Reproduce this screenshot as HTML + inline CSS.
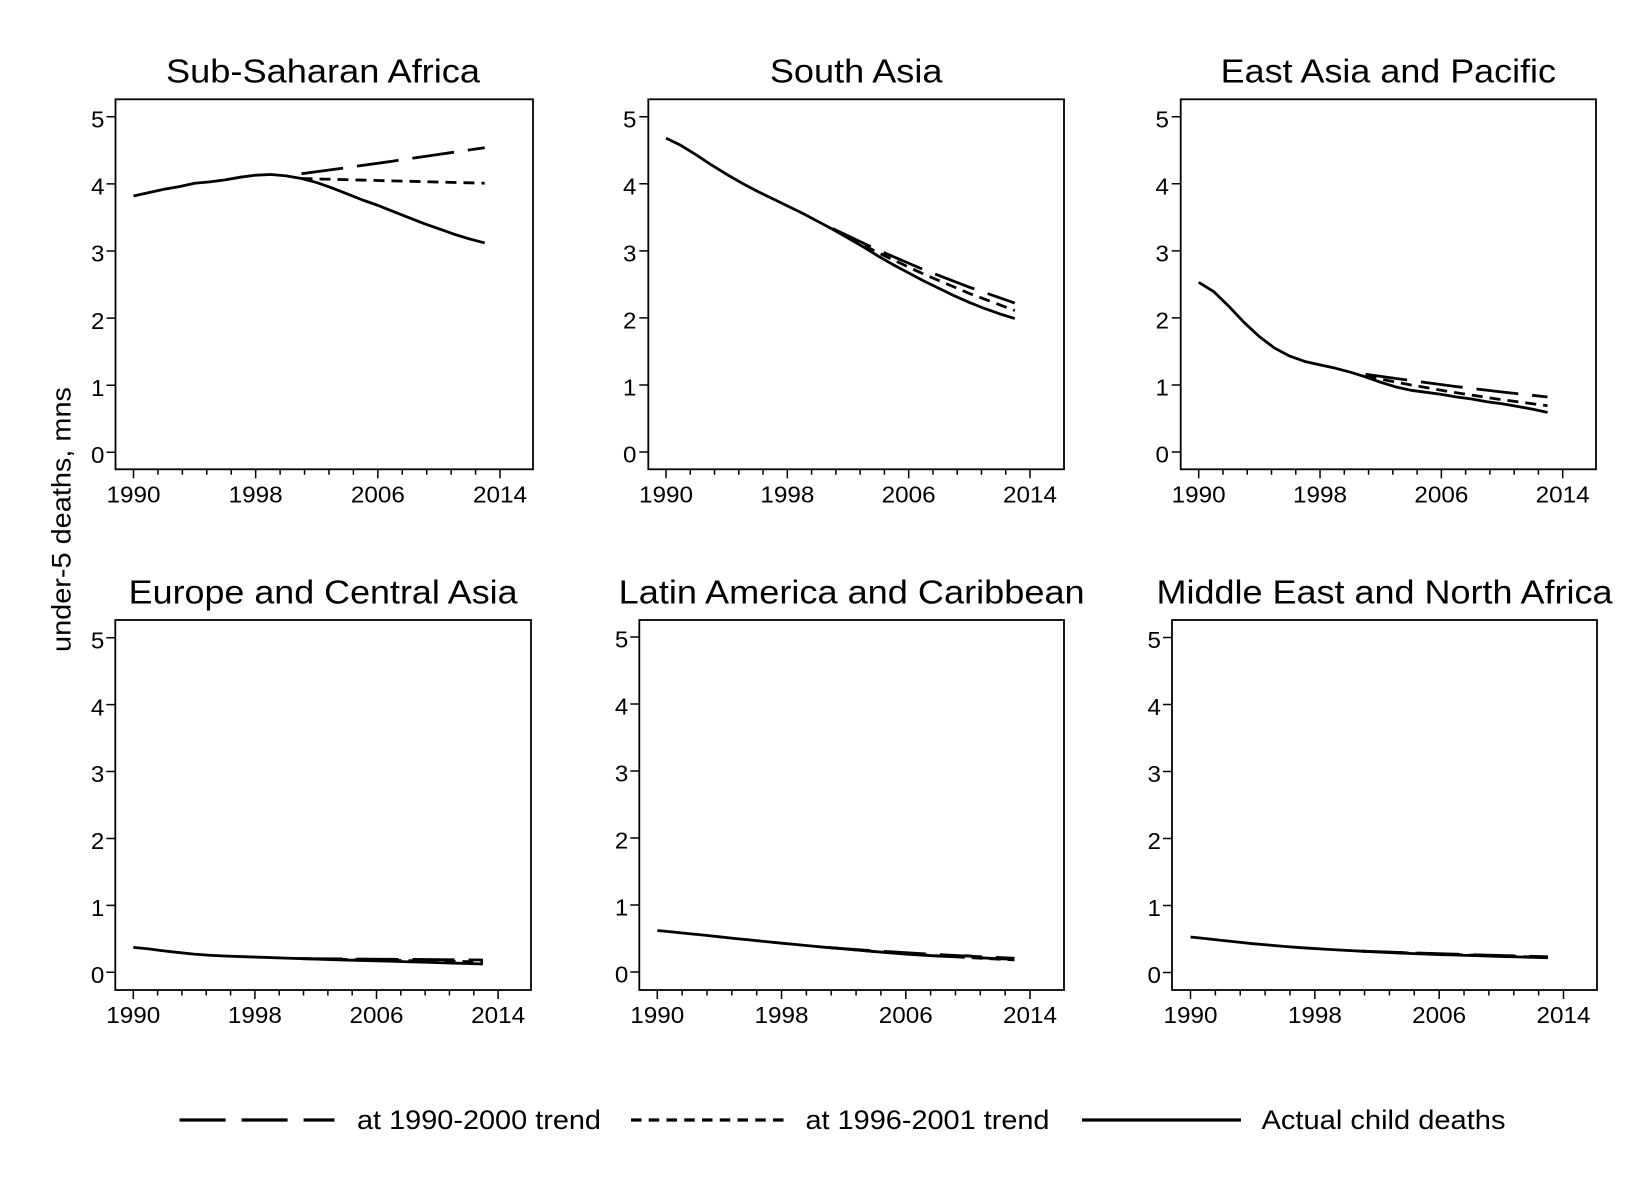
<!DOCTYPE html>
<html>
<head>
<meta charset="utf-8">
<style>
html,body{margin:0;padding:0;background:#fff;}
svg{display:block;}
text{font-family:"Liberation Sans",Arial,sans-serif;fill:#000;}
.t{font-size:33px;text-anchor:middle;}
.yl{font-size:23px;text-anchor:end;}
.xl{font-size:23px;text-anchor:middle;}
.lg{font-size:27px;}
.fr{fill:none;stroke:#000;stroke-width:1.8;}
.tk{fill:none;stroke:#000;stroke-width:1.5;}
.s{fill:none;stroke:#000;stroke-width:2.8;stroke-linejoin:round;stroke-linecap:butt;}
.ld{fill:none;stroke:#000;stroke-width:2.8;stroke-dasharray:42 14;stroke-linejoin:round;}
.sd{fill:none;stroke:#000;stroke-width:2.8;stroke-dasharray:11 7;stroke-linejoin:round;}
</style>
</head>
<body>
<svg width="1650" height="1200" viewBox="0 0 1650 1200" xmlns="http://www.w3.org/2000/svg">
<rect x="0" y="0" width="1650" height="1200" fill="#fff"/>

<!-- Y axis title -->
<text class="lg" transform="translate(70.5,519.5) rotate(-90)" text-anchor="middle" font-size="28" textLength="265" lengthAdjust="spacingAndGlyphs">under-5 deaths, mns</text>

<!-- ================= Panel 1: Sub-Saharan Africa ================= -->
<text class="t" x="323" y="82.5" textLength="314" lengthAdjust="spacingAndGlyphs">Sub-Saharan Africa</text>
<rect class="fr" x="115.5" y="99.3" width="417.5" height="370"/>
<path class="tk" d="M133.5 469.3V478.3M157.93 469.3V474.8M182.37 469.3V474.8M206.8 469.3V474.8M231.24 469.3V474.8M255.67 469.3V478.3M280.1 469.3V474.8M304.54 469.3V474.8M328.97 469.3V474.8M353.41 469.3V474.8M377.84 469.3V478.3M402.27 469.3V474.8M426.71 469.3V474.8M451.14 469.3V474.8M475.58 469.3V474.8M500 469.3V478.3"/>
<path class="tk" d="M106.5 452.3H115.5M106.5 385.2H115.5M106.5 318.1H115.5M106.5 251H115.5M106.5 183.9H115.5M106.5 116.8H115.5"/>
<text class="yl" transform="translate(104.5,463) scale(1.05,1)">0</text>
<text class="yl" transform="translate(104.5,395.9) scale(1.05,1)">1</text>
<text class="yl" transform="translate(104.5,328.8) scale(1.05,1)">2</text>
<text class="yl" transform="translate(104.5,261.7) scale(1.05,1)">3</text>
<text class="yl" transform="translate(104.5,194.6) scale(1.05,1)">4</text>
<text class="yl" transform="translate(104.5,127.5) scale(1.05,1)">5</text>
<text class="xl" x="133.5" y="502.5" textLength="54" lengthAdjust="spacingAndGlyphs">1990</text>
<text class="xl" x="255.67" y="502.5" textLength="54" lengthAdjust="spacingAndGlyphs">1998</text>
<text class="xl" x="377.84" y="502.5" textLength="54" lengthAdjust="spacingAndGlyphs">2006</text>
<text class="xl" x="500" y="502.5" textLength="54" lengthAdjust="spacingAndGlyphs">2014</text>
<g transform="translate(133.5,452.3) scale(15.271,-67.1)">
<polyline class="s" vector-effect="non-scaling-stroke" points="0,3.82 1,3.87 2,3.92 3,3.96 4,4.01 5,4.03 6,4.06 7,4.10 8,4.13 9,4.14 10,4.12 11,4.08 12,4.02 13,3.94 14,3.85 15,3.76 16,3.68 17,3.59 18,3.50 19,3.41 20,3.33 21,3.25 22,3.18 23,3.12"/>
</g>
<polyline class="ld" points="301.5,173.8 347.3,167.5 393.1,161.1 438.9,154.4 484.7,147.7"/>
<polyline class="sd" points="301.5,178.5 393.1,180.9 484.7,183.2"/>

<!-- ================= Panel 2: South Asia ================= -->
<text class="t" x="856.15" y="82.5" textLength="172.6" lengthAdjust="spacingAndGlyphs">South Asia</text>
<rect class="fr" x="648.3" y="99.3" width="415.7" height="370"/>
<path class="tk" d="M666 469.3V478.3M690.27 469.3V474.8M714.53 469.3V474.8M738.8 469.3V474.8M763.07 469.3V474.8M787.33 469.3V478.3M811.6 469.3V474.8M835.87 469.3V474.8M860.13 469.3V474.8M884.4 469.3V474.8M908.67 469.3V478.3M932.93 469.3V474.8M957.2 469.3V474.8M981.47 469.3V474.8M1005.73 469.3V474.8M1030 469.3V478.3"/>
<path class="tk" d="M639.3 452H648.3M639.3 384.94H648.3M639.3 317.88H648.3M639.3 250.82H648.3M639.3 183.76H648.3M639.3 116.7H648.3"/>
<text class="yl" transform="translate(636.5,462.7) scale(1.05,1)">0</text>
<text class="yl" transform="translate(636.5,395.64) scale(1.05,1)">1</text>
<text class="yl" transform="translate(636.5,328.58) scale(1.05,1)">2</text>
<text class="yl" transform="translate(636.5,261.52) scale(1.05,1)">3</text>
<text class="yl" transform="translate(636.5,194.46) scale(1.05,1)">4</text>
<text class="yl" transform="translate(636.5,127.4) scale(1.05,1)">5</text>
<text class="xl" x="666" y="502.5" textLength="54" lengthAdjust="spacingAndGlyphs">1990</text>
<text class="xl" x="787.33" y="502.5" textLength="54" lengthAdjust="spacingAndGlyphs">1998</text>
<text class="xl" x="908.67" y="502.5" textLength="54" lengthAdjust="spacingAndGlyphs">2006</text>
<text class="xl" x="1030" y="502.5" textLength="54" lengthAdjust="spacingAndGlyphs">2014</text>
<g transform="translate(666,452) scale(15.167,-67.06)">
<polyline class="s" vector-effect="non-scaling-stroke" points="0,4.68 1,4.57 2,4.43 3,4.28 4,4.14 5,4.01 6,3.89 7,3.78 8,3.67 9,3.56 10,3.44 11,3.32 12,3.19 13,3.06 14,2.92 15,2.79 16,2.67 17,2.55 18,2.44 19,2.33 20,2.23 21,2.14 22,2.06 23,1.99"/>
</g>
<polyline class="ld" points="832.8,228.7 878.3,250.2 923.8,269.7 969.3,287.2 1014.8,303.1"/>
<polyline class="sd" points="832.8,228.7 878.3,252.8 923.8,274.2 969.3,293.4 1014.8,310.5"/>

<!-- ================= Panel 3: East Asia and Pacific ================= -->
<text class="t" x="1388.35" y="82.5" textLength="335.3" lengthAdjust="spacingAndGlyphs">East Asia and Pacific</text>
<rect class="fr" x="1180.7" y="99.3" width="415.3" height="370"/>
<path class="tk" d="M1198.7 469.3V478.3M1222.97 469.3V474.8M1247.23 469.3V474.8M1271.5 469.3V474.8M1295.77 469.3V474.8M1320.03 469.3V478.3M1344.3 469.3V474.8M1368.57 469.3V474.8M1392.83 469.3V474.8M1417.1 469.3V474.8M1441.37 469.3V478.3M1465.63 469.3V474.8M1489.9 469.3V474.8M1514.17 469.3V474.8M1538.43 469.3V474.8M1562.7 469.3V478.3"/>
<path class="tk" d="M1171.7 452H1180.7M1171.7 384.94H1180.7M1171.7 317.88H1180.7M1171.7 250.82H1180.7M1171.7 183.76H1180.7M1171.7 116.7H1180.7"/>
<text class="yl" transform="translate(1169,462.7) scale(1.05,1)">0</text>
<text class="yl" transform="translate(1169,395.64) scale(1.05,1)">1</text>
<text class="yl" transform="translate(1169,328.58) scale(1.05,1)">2</text>
<text class="yl" transform="translate(1169,261.52) scale(1.05,1)">3</text>
<text class="yl" transform="translate(1169,194.46) scale(1.05,1)">4</text>
<text class="yl" transform="translate(1169,127.4) scale(1.05,1)">5</text>
<text class="xl" x="1198.7" y="502.5" textLength="54" lengthAdjust="spacingAndGlyphs">1990</text>
<text class="xl" x="1320.03" y="502.5" textLength="54" lengthAdjust="spacingAndGlyphs">1998</text>
<text class="xl" x="1441.37" y="502.5" textLength="54" lengthAdjust="spacingAndGlyphs">2006</text>
<text class="xl" x="1562.7" y="502.5" textLength="54" lengthAdjust="spacingAndGlyphs">2014</text>
<g transform="translate(1198.7,452) scale(15.167,-67.06)">
<polyline class="s" vector-effect="non-scaling-stroke" points="0,2.53 1,2.39 2,2.17 3,1.93 4,1.72 5,1.55 6,1.43 7,1.35 8,1.30 9,1.25 10,1.19 11,1.12 12,1.04 13,0.97 14,0.92 15,0.89 16,0.86 17,0.82 18,0.79 19,0.75 20,0.72 21,0.68 22,0.64 23,0.59"/>
</g>
<polyline class="ld" points="1365.5,374.2 1411,380.6 1456.5,386.6 1502,392 1547.5,397"/>
<polyline class="sd" points="1365.5,376.2 1411,385 1456.5,392.8 1502,399.7 1547.5,405.7"/>

<!-- ================= Panel 4: Europe and Central Asia ================= -->
<text class="t" x="323.15" y="603.5" textLength="388.9" lengthAdjust="spacingAndGlyphs">Europe and Central Asia</text>
<rect class="fr" x="115.3" y="620" width="415.7" height="370"/>
<path class="tk" d="M133.3 990V999M157.62 990V995.5M181.94 990V995.5M206.26 990V995.5M230.58 990V995.5M254.9 990V999M279.22 990V995.5M303.54 990V995.5M327.86 990V995.5M352.18 990V995.5M376.5 990V999M400.82 990V995.5M425.14 990V995.5M449.46 990V995.5M473.78 990V995.5M498.1 990V999"/>
<path class="tk" d="M106.3 972.3H115.3M106.3 905.38H115.3M106.3 838.46H115.3M106.3 771.54H115.3M106.3 704.62H115.3M106.3 637.7H115.3"/>
<text class="yl" transform="translate(104.3,983) scale(1.05,1)">0</text>
<text class="yl" transform="translate(104.3,916.08) scale(1.05,1)">1</text>
<text class="yl" transform="translate(104.3,849.16) scale(1.05,1)">2</text>
<text class="yl" transform="translate(104.3,782.24) scale(1.05,1)">3</text>
<text class="yl" transform="translate(104.3,715.32) scale(1.05,1)">4</text>
<text class="yl" transform="translate(104.3,648.4) scale(1.05,1)">5</text>
<text class="xl" x="133.3" y="1023" textLength="54" lengthAdjust="spacingAndGlyphs">1990</text>
<text class="xl" x="254.9" y="1023" textLength="54" lengthAdjust="spacingAndGlyphs">1998</text>
<text class="xl" x="376.5" y="1023" textLength="54" lengthAdjust="spacingAndGlyphs">2006</text>
<text class="xl" x="498.1" y="1023" textLength="54" lengthAdjust="spacingAndGlyphs">2014</text>
<g transform="translate(133.3,972.3) scale(15.2,-66.92)">
<polyline class="s" vector-effect="non-scaling-stroke" points="0,0.373 1,0.35 2,0.32 3,0.295 4,0.272 5,0.255 6,0.243 7,0.235 8,0.228 9,0.22 10,0.212 11,0.205 12,0.198 13,0.19 14,0.183 15,0.177 16,0.172 17,0.165 18,0.158 19,0.152 20,0.145 21,0.138 22,0.131 23,0.124"/>
</g>
<polyline class="ld" points="300.5,958.6 391.7,959.3 482.9,960"/>
<polyline class="sd" points="300.5,958.6 391.7,960.3 482.9,961.9"/>

<!-- ================= Panel 5: Latin America and Caribbean ================= -->
<text class="t" x="851.65" y="603.5" textLength="466" lengthAdjust="spacingAndGlyphs">Latin America and Caribbean</text>
<rect class="fr" x="639.3" y="620" width="424.7" height="370"/>
<path class="tk" d="M657.3 990V999M682.15 990V995.5M706.99 990V995.5M731.84 990V995.5M756.69 990V995.5M781.54 990V999M806.38 990V995.5M831.23 990V995.5M856.08 990V995.5M880.92 990V995.5M905.77 990V999M930.62 990V995.5M955.46 990V995.5M980.31 990V995.5M1005.16 990V995.5M1030 990V999"/>
<path class="tk" d="M630.3 972H639.3M630.3 905H639.3M630.3 838H639.3M630.3 771H639.3M630.3 704H639.3M630.3 637H639.3"/>
<text class="yl" transform="translate(628.3,982.7) scale(1.05,1)">0</text>
<text class="yl" transform="translate(628.3,915.7) scale(1.05,1)">1</text>
<text class="yl" transform="translate(628.3,848.7) scale(1.05,1)">2</text>
<text class="yl" transform="translate(628.3,781.7) scale(1.05,1)">3</text>
<text class="yl" transform="translate(628.3,714.7) scale(1.05,1)">4</text>
<text class="yl" transform="translate(628.3,647.7) scale(1.05,1)">5</text>
<text class="xl" x="657.3" y="1023" textLength="54" lengthAdjust="spacingAndGlyphs">1990</text>
<text class="xl" x="781.54" y="1023" textLength="54" lengthAdjust="spacingAndGlyphs">1998</text>
<text class="xl" x="905.77" y="1023" textLength="54" lengthAdjust="spacingAndGlyphs">2006</text>
<text class="xl" x="1030" y="1023" textLength="54" lengthAdjust="spacingAndGlyphs">2014</text>
<g transform="translate(657.3,972) scale(15.529,-67)">
<polyline class="s" vector-effect="non-scaling-stroke" points="0,0.62 1,0.597 2,0.573 3,0.55 4,0.525 5,0.50 6,0.477 7,0.453 8,0.43 9,0.408 10,0.386 11,0.365 12,0.345 13,0.325 14,0.305 15,0.285 16,0.267 17,0.252 18,0.24 19,0.228 20,0.245 21,0.21 22,0.198 23,0.19"/>
</g>
<polyline class="ld" points="828.1,947.5 874.7,950.8 921.3,953.7 967.9,956.1 1014.5,958.3"/>
<polyline class="sd" points="828.1,947.5 874.7,951.5 921.3,954.8 967.9,957.6 1014.5,959.9"/>

<!-- ================= Panel 6: Middle East and North Africa ================= -->
<text class="t" x="1384.5" y="603.5" textLength="456" lengthAdjust="spacingAndGlyphs">Middle East and North Africa</text>
<rect class="fr" x="1172" y="620" width="425" height="370"/>
<path class="tk" d="M1190.5 990V999M1215.37 990V995.5M1240.23 990V995.5M1265.1 990V995.5M1289.97 990V995.5M1314.83 990V999M1339.7 990V995.5M1364.57 990V995.5M1389.43 990V995.5M1414.3 990V995.5M1439.17 990V999M1464.03 990V995.5M1488.9 990V995.5M1513.77 990V995.5M1538.63 990V995.5M1563.5 990V999"/>
<path class="tk" d="M1163 972.5H1172M1163 905.5H1172M1163 838.5H1172M1163 771.5H1172M1163 704.5H1172M1163 637.5H1172"/>
<text class="yl" transform="translate(1161,983.2) scale(1.05,1)">0</text>
<text class="yl" transform="translate(1161,916.2) scale(1.05,1)">1</text>
<text class="yl" transform="translate(1161,849.2) scale(1.05,1)">2</text>
<text class="yl" transform="translate(1161,782.2) scale(1.05,1)">3</text>
<text class="yl" transform="translate(1161,715.2) scale(1.05,1)">4</text>
<text class="yl" transform="translate(1161,648.2) scale(1.05,1)">5</text>
<text class="xl" x="1190.5" y="1023" textLength="54" lengthAdjust="spacingAndGlyphs">1990</text>
<text class="xl" x="1314.83" y="1023" textLength="54" lengthAdjust="spacingAndGlyphs">1998</text>
<text class="xl" x="1439.17" y="1023" textLength="54" lengthAdjust="spacingAndGlyphs">2006</text>
<text class="xl" x="1563.5" y="1023" textLength="54" lengthAdjust="spacingAndGlyphs">2014</text>
<g transform="translate(1190.5,972.5) scale(15.542,-67)">
<polyline class="s" vector-effect="non-scaling-stroke" points="0,0.53 1,0.505 2,0.48 3,0.455 4,0.43 5,0.41 6,0.39 7,0.372 8,0.357 9,0.343 10,0.33 11,0.318 12,0.306 13,0.295 14,0.285 15,0.276 16,0.268 17,0.261 18,0.254 19,0.247 20,0.24 21,0.233 22,0.226 23,0.22"/>
</g>
<polyline class="ld" points="1361.5,951.2 1454.7,954.2 1548,956.8"/>
<polyline class="sd" points="1361.5,951.2 1454.7,954.6 1548,957.4"/>

<!-- ================= Legend ================= -->
<line x1="179.6" y1="1120" x2="334.5" y2="1120" stroke="#000" stroke-width="3.3" stroke-dasharray="46 16"/>
<text class="lg" x="357" y="1129" textLength="244" lengthAdjust="spacingAndGlyphs">at 1990-2000 trend</text>
<line x1="631" y1="1120" x2="783.5" y2="1120" stroke="#000" stroke-width="3.3" stroke-dasharray="10.5 7.25"/>
<text class="lg" x="805.5" y="1129" textLength="244" lengthAdjust="spacingAndGlyphs">at 1996-2001 trend</text>
<line x1="1082" y1="1120" x2="1241" y2="1120" stroke="#000" stroke-width="3.3"/>
<text class="lg" x="1261.5" y="1129" textLength="244" lengthAdjust="spacingAndGlyphs">Actual child deaths</text>
</svg>
</body>
</html>
